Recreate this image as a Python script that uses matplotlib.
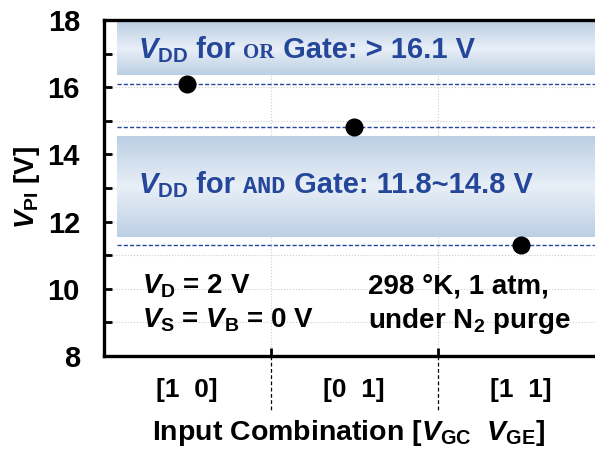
import numpy as np
import matplotlib
matplotlib.use("Agg")
from matplotlib import pyplot as plt
from matplotlib.colors import LinearSegmentedColormap
from matplotlib.transforms import offset_copy

# data
combos = ["[1  0]", "[0  1]", "[1  1]"]
v_pi = [16.1, 14.8, 11.3]
or_band = (16.36, 17.93)     # shaded box, OR gate window
and_band = (11.55, 14.53)    # shaded box, AND gate window

plt.rcParams["font.family"] = ["Liberation Sans", "DejaVu Sans"]
plt.rcParams["font.weight"] = "bold"
plt.rcParams["mathtext.fontset"] = "custom"
plt.rcParams["mathtext.rm"] = "Liberation Sans:bold"
plt.rcParams["mathtext.it"] = "Liberation Sans:italic:bold"
plt.rcParams["mathtext.bf"] = "Liberation Sans:bold"

blue = "#24479a"

fig = plt.figure(figsize=(5.95, 4.5), dpi=100)
ax = fig.add_axes([0.174, 0.209, 0.842, 0.7467])
ax.set_xlim(-0.5, 2.5)
ax.set_ylim(8, 18)

# gradient boxes
cmap = LinearSegmentedColormap.from_list("band", ["#bccfe4", "#e8eff7", "#bccfe4"])
grad = np.linspace(0, 1, 256).reshape(-1, 1)
for lo, hi in [or_band, and_band]:
    ax.imshow(grad, cmap=cmap, aspect="auto", extent=(-0.42, 2.44, hi, lo),
              origin="upper", zorder=1)

# dashed level lines
for v in v_pi:
    ax.plot([-0.42, 2.5], [v, v], ls=(0, (3, 1.5)), color=blue, lw=1, zorder=2)

x = np.arange(len(combos))
ax.plot(x, v_pi, "o", color="black", ms=12, zorder=3)

# axes styling
for s in ["left", "bottom", "top"]:
    ax.spines[s].set_linewidth(2.4)
ax.spines["right"].set_visible(False)
ax.set_yticks(range(8, 19, 2))
ax.set_yticks(range(9, 18, 2), minor=True)
ax.tick_params(axis="y", which="both", direction="in", length=6, width=2,
               labelsize=21, pad=17)
ax.set_xticks([0.5, 1.5], ["", ""])
ax.tick_params(axis="x", which="major", direction="in", length=6, width=2)
ax.set_xticks(x, combos, minor=True)
ax.tick_params(axis="x", which="minor", length=0, labelsize=19, pad=16)
ax.yaxis.grid(True, which="both", color="#cccccc", ls=":", lw=0.8)
ax.xaxis.grid(True, which="major", color="#cccccc", ls=":", lw=0.8)
ax.set_axisbelow(True)

for sx in [0.5, 1.5]:
    ax.plot([sx, sx], [8, 6.4], ls=(0, (3, 2)), color="black", lw=0.9, clip_on=False)

fig.text(0.045, 0.584, r"$V_{\rm PI}$ [V]", rotation=90, ha="center", va="center",
         fontsize=20)
fig.text(0.586, 0.022, r"Input Combination [$V_{\rm GC}$  $V_{\rm GE}$]",
         ha="center", va="baseline", fontsize=20.5)

r = fig.canvas.get_renderer()


def rich(x0, y0, pieces, **kw):
    dx = 0
    for s, props in pieces:
        tr = offset_copy(ax.transData, fig, x=dx, y=0, units="dots")
        t = ax.text(x0, y0, s, transform=tr, va="baseline", zorder=4, **kw, **props)
        dx += t.get_window_extent(r).width


rich(-0.293, 16.87, [(r"$V_{\rm DD}$", {"fontsize": 21}),
                     (" for ", {"fontsize": 21}),
                     ("OR", {"fontsize": 15, "family": "Liberation Serif"}),
                     (" Gate: > 16.1 V", {"fontsize": 21})], color=blue)
rich(-0.293, 12.85, [(r"$V_{\rm DD}$", {"fontsize": 21}),
                     (" for ", {"fontsize": 21}),
                     ("AND", {"fontsize": 17, "family": "Liberation Mono"}),
                     (" Gate: 11.8~14.8 V", {"fontsize": 21})], color=blue)

ax.text(-0.27, 9.85, r"$V_{\rm D}$ = 2 V", fontsize=20, va="baseline")
ax.text(-0.27, 8.84, r"$V_{\rm S}$ = $V_{\rm B}$ = 0 V", fontsize=20, va="baseline")
ax.text(1.084, 9.85, "298 °K, 1 atm,", fontsize=20, va="baseline")
ax.text(1.084, 8.84, r"under N$_{\rm 2}$ purge", fontsize=20, va="baseline")

fig.savefig("out.png", dpi=100)
